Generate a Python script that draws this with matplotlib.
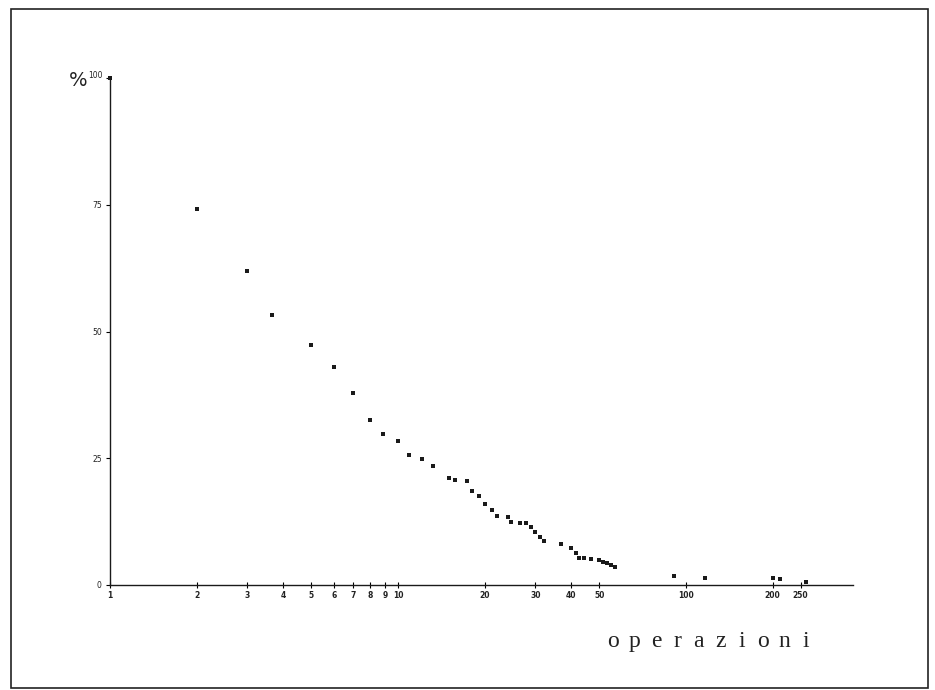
import matplotlib
matplotlib.use("Agg")
import matplotlib.pyplot as plt
from matplotlib.patches import Rectangle

# Data (x = operazioni, log scale; y = percent)
operazioni = [1, 2, 3, 3.65, 5, 6, 7, 8, 8.9, 10, 10.9, 12.1, 13.2, 15, 15.8, 17.3, 18.0,
              19.1, 20.0, 21.2, 22.0, 24.0, 24.7, 26.5, 27.9, 28.9, 30.0, 31.1, 32.2,
              36.7, 40.0, 41.5, 42.6, 44.1, 46.7, 50.0, 51.6, 53.2, 54.8, 56.5,
              91, 116, 201, 212, 260]
percentuale = [100, 74.2, 61.9, 53.3, 47.3, 43.0, 37.8, 32.5, 29.7, 28.5, 25.7, 24.8, 23.5,
               21.2, 20.8, 20.5, 18.5, 17.6, 15.9, 14.8, 13.6, 13.5, 12.5, 12.2, 12.2,
               11.5, 10.5, 9.5, 8.7, 8.1, 7.2, 6.3, 5.4, 5.4, 5.2, 4.9, 4.6, 4.3, 3.9, 3.6,
               1.8, 1.4, 1.4, 1.2, 0.5]

x_ticks = [1, 2, 3, 4, 5, 6, 7, 8, 9, 10, 20, 30, 40, 50, 100, 200, 250]
x_tick_labels = ["1", "2", "3", "4", "5", "6", "7", "8", "9", "10", "20", "30", "40", "50",
                 "100", "200", "250"]
y_ticks = [0, 25, 50, 75, 100]
y_tick_labels = ["0", "25", "50", "75", ""]
x_title = "operazioni"

W, H = 935, 690
fig = plt.figure(figsize=(W / 100, H / 100), dpi=100)
fig.patch.set_facecolor("white")

# Frame around the page
fig.patches.append(Rectangle((11 / W, 1 - 688 / H), (928 - 11) / W, (688 - 9) / H,
                             transform=fig.transFigure, fill=False,
                             edgecolor="#222222", linewidth=1.2))

ax = fig.add_axes([110 / W, 1 - 585 / H, (853 - 110) / W, (585 - 78) / H])
ax.set_xscale("log")
ax.set_xlim(1, 380)
ax.set_ylim(0, 100)

ax.scatter(operazioni, percentuale, marker="s", s=10, color="#1a1a1a",
           linewidths=0, zorder=3, clip_on=False)

for s in ["top", "right"]:
    ax.spines[s].set_visible(False)
for s in ["left", "bottom"]:
    ax.spines[s].set_color("#1a1a1a")
    ax.spines[s].set_linewidth(1.0)

ax.set_xticks(x_ticks)
ax.set_xticklabels(x_tick_labels, fontsize=5.5, fontweight="bold", color="#222222")
ax.xaxis.set_minor_locator(matplotlib.ticker.NullLocator())
ax.tick_params(axis="x", direction="inout", length=4, width=0.8, pad=2)

ax.set_yticks(y_ticks)
ax.set_yticklabels(y_tick_labels, fontsize=5.5, color="#222222")
ax.tick_params(axis="y", direction="out", length=3, width=0.8, pad=3)

# "100" label and % sign at top of y axis
fig.text(103 / W, 1 - 76 / H, "100", ha="right", va="center", fontsize=5.5,
         color="#222222")
fig.text(78 / W, 1 - 80 / H, "%", ha="center", va="center", fontsize=14,
         color="#222222", family="DejaVu Sans")

# x axis title, widely spaced letters
x0, x1 = 613, 806
pitch = (x1 - x0) / (len(x_title) - 1)
for i, ch in enumerate(x_title):
    fig.text((x0 + i * pitch) / W, 1 - 647 / H, ch, ha="center", va="baseline",
             fontsize=17, color="#222222", family="Liberation Serif")

fig.savefig("out.png", dpi=100, facecolor="white")
